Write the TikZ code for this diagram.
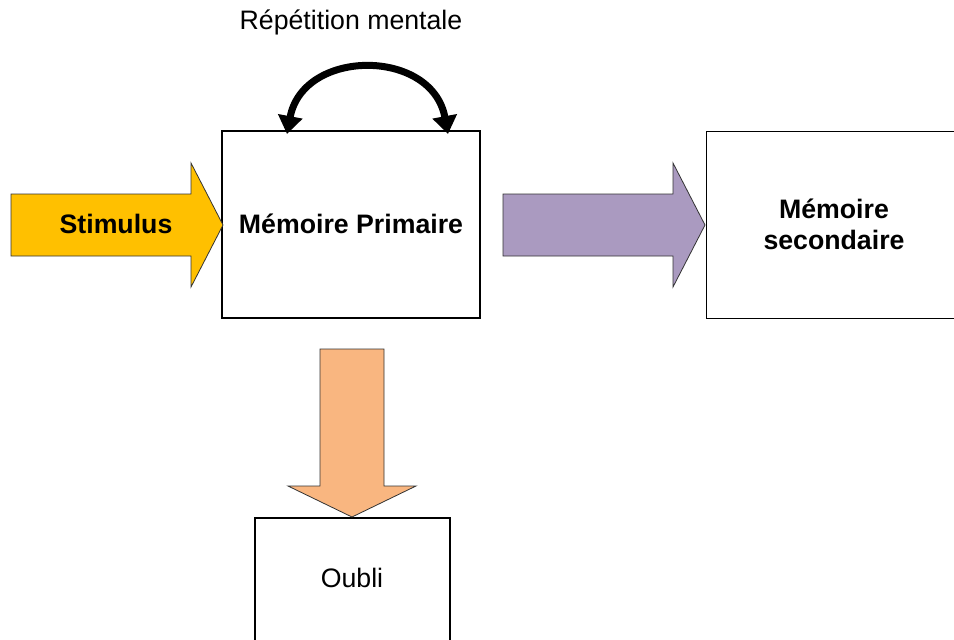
\documentclass[tikz,border=0pt]{standalone}
\usepackage{fontspec}
\setmainfont{Liberation Sans}
\usetikzlibrary{arrows.meta}
\definecolor{stimcol}{RGB}{255,192,0}
\definecolor{purplecol}{RGB}{170,154,192}
\definecolor{peachcol}{RGB}{249,182,128}
\tikzset{
  box/.style={draw=black, line width=2pt, fill=white, inner sep=0pt},
  blockarrow/.style={draw=black!80, line width=0.8pt},
  lbl/.style={font=\fontsize{26.7}{31}\selectfont, align=center, inner sep=0pt},
  blbl/.style={font=\fontsize{26.7}{31}\selectfont\bfseries, align=center, inner sep=0pt},
}
\begin{document}
\begin{tikzpicture}[x=1pt,y=-1pt]
\useasboundingbox (0,0) rectangle (954,640);
\clip (0,0) rectangle (954,640);
% boxes
\node[box, minimum width=258pt, minimum height=187pt] (prim) at (351,224.5) {};
\node[box, line width=1.2pt, minimum width=300pt, minimum height=187pt, anchor=north west] (sec) at (706,131) {};
\node[box, minimum width=195pt, minimum height=200pt, anchor=north west] (oubli) at (254,517) {};
% block arrows
\draw[blockarrow, fill=stimcol] (11,194) -- (191,194) -- (191,163) -- (223,225) -- (191,287) -- (191,256) -- (11,256) -- cycle;
\draw[blockarrow, fill=purplecol] (503,194) -- (673,194) -- (673,163) -- (705,225) -- (673,287) -- (673,256) -- (503,256) -- cycle;
\draw[blockarrow, fill=peachcol] (320,349) -- (384,349) -- (384,486) -- (416,486) -- (352,517) -- (288,486) -- (320,486) -- cycle;
% labels
\node[blbl] (stimtxt) at (116,224) {Stimulus};
\node[blbl] (primtxt) at (351,224) {Mémoire Primaire};
\node[blbl] (sectxt) at (834,224) {Mémoire\\secondaire};
\node[lbl] (oublitxt) at (352,578) {Oubli};
\node[lbl] (reptxt) at (351,22) {Répétition mentale};
% rehearsal loop
\coordinate (lt) at (287,134);
\coordinate (rt) at (448,134);
\draw[line width=7pt, {Triangle[length=18pt,width=24pt]}-{Triangle[length=18pt,width=24pt]}]
  (lt) .. controls (303,48) and (432,48) .. (rt);
\end{tikzpicture}
\end{document}
